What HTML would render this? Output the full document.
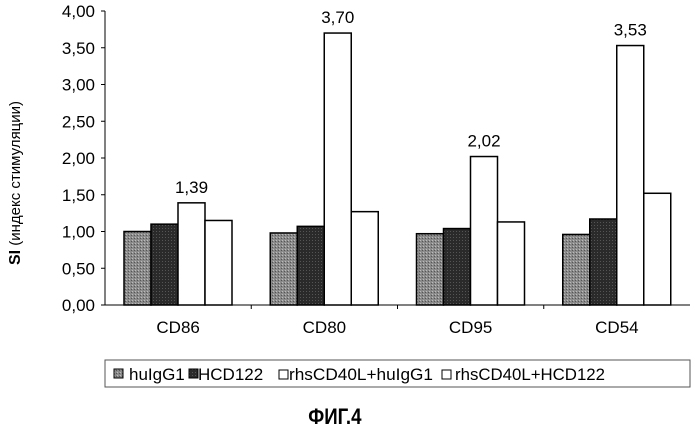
<!DOCTYPE html>
<html><head><meta charset="utf-8"><style>
body{margin:0;background:#fff;width:699px;height:433px;overflow:hidden;font-family:"Liberation Sans",sans-serif}
</style></head><body>
<svg width="699" height="433" xmlns="http://www.w3.org/2000/svg">
<defs>
<pattern id="pg" width="3" height="3" patternUnits="userSpaceOnUse"><rect width="3" height="3" fill="#8a8a8a"/><rect width="1" height="1" fill="#bbb"/><rect x="2" y="1" width="1" height="1" fill="#555"/></pattern>
<pattern id="pd" width="3" height="3" patternUnits="userSpaceOnUse"><rect width="3" height="3" fill="#2a2a2a"/><rect width="1" height="1" fill="#555"/></pattern>
</defs>
<g id="axes"></g>
<g id="bars"></g>
<text x="20" y="183" transform="rotate(-90 20 183)" text-anchor="middle" font-size="15"><tspan font-weight="bold" font-size="16">SI</tspan> (индекс стимуляции)</text>
<g>
<rect x="105" y="360" width="585" height="27" fill="#fff" stroke="#555" stroke-width="1"/>
<rect x="114" y="369" width="9" height="9" fill="url(#pg)" stroke="#000"/>
<text x="129" y="380" font-size="17">huIgG1</text>
<rect x="189" y="369" width="9" height="9" fill="url(#pd)" stroke="#000"/>
<text x="198" y="380" font-size="17">HCD122</text>
<rect x="279" y="370" width="9" height="9" fill="#fff" stroke="#000"/>
<text x="289" y="380" font-size="17" textLength="144" lengthAdjust="spacingAndGlyphs">rhsCD40L+huIgG1</text>
<rect x="442" y="370" width="9" height="9" fill="#fff" stroke="#000"/>
<text x="455" y="380" font-size="17" textLength="150" lengthAdjust="spacingAndGlyphs">rhsCD40L+HCD122</text>
</g>
<text x="335" y="424" text-anchor="middle" font-size="22" font-weight="bold" transform="scale(0.85 1) translate(59 0)">ФИГ.4</text>
</svg>
<script>
const categories=["CD86","CD80","CD95","CD54"];
const huIgG1=[1.00,0.98,0.97,0.96];
const hcd122=[1.10,1.07,1.04,1.17];
const rhsHuIgG1=[1.39,3.70,2.02,3.53];
const rhsHcd122=[1.15,1.27,1.13,1.52];
const valueLabels=["1,39","3,70","2,02","3,53"];
const yTicks=[0,0.5,1,1.5,2,2.5,3,3.5,4];
const NS="http://www.w3.org/2000/svg";
const X0=105,X1=690,Y0=305,Y4=11;
const y=v=>Y0-(v/4)*(Y0-Y4);
const gw=(X1-X0)/categories.length;
const bw=27;
const bx=(i,s)=>X0+gw*i+19+s*bw;
function mk(t,a,p){const e=document.createElementNS(NS,t);for(const k in a)e.setAttribute(k,a[k]);p.appendChild(e);return e;}
const ax=document.getElementById('axes'),bg=document.getElementById('bars');
const yl=mk('line',{x1:X0,y1:Y4,x2:X0,y2:Y0,stroke:'#000'},ax);


const xl=mk('line',{x1:X0-4,y1:Y0,x2:X1,y2:Y0,stroke:'#000'},ax);


yTicks.forEach(v=>{
 mk('line',{x1:X0-4,x2:X0,y1:y(v),y2:y(v),stroke:'#000'},ax);
 const t=mk('text',{x:X0-10,y:y(v)+6,'text-anchor':'end','font-size':17},ax);
 t.textContent=v.toFixed(2).replace('.',',');
 
 
});
const series=[huIgG1,hcd122,rhsHuIgG1,rhsHcd122];
const fills=['url(#pg)','url(#pd)','#fff','#fff'];
categories.forEach((c,i)=>{
 if(i>0)mk('line',{x1:X0+gw*i,x2:X0+gw*i,y1:Y0,y2:Y0+4,stroke:'#000'},ax);
 const t=mk('text',{x:X0+gw*i+gw/2,y:Y0+28,'text-anchor':'middle','font-size':17},ax);
 t.textContent=c;
 
 
 series.forEach((s,k)=>{
  const r=mk('rect',{x:bx(i,k),y:y(s[i]),width:bw,height:Y0-y(s[i]),fill:fills[k],stroke:'#000','stroke-width':1.5},bg);
  
  
 });
 const l=mk('text',{x:bx(i,2)+bw/2,y:y(rhsHuIgG1[i])-10,'text-anchor':'middle','font-size':17},bg);
 l.textContent=valueLabels[i];
 
 
});
</script>
</body></html>
